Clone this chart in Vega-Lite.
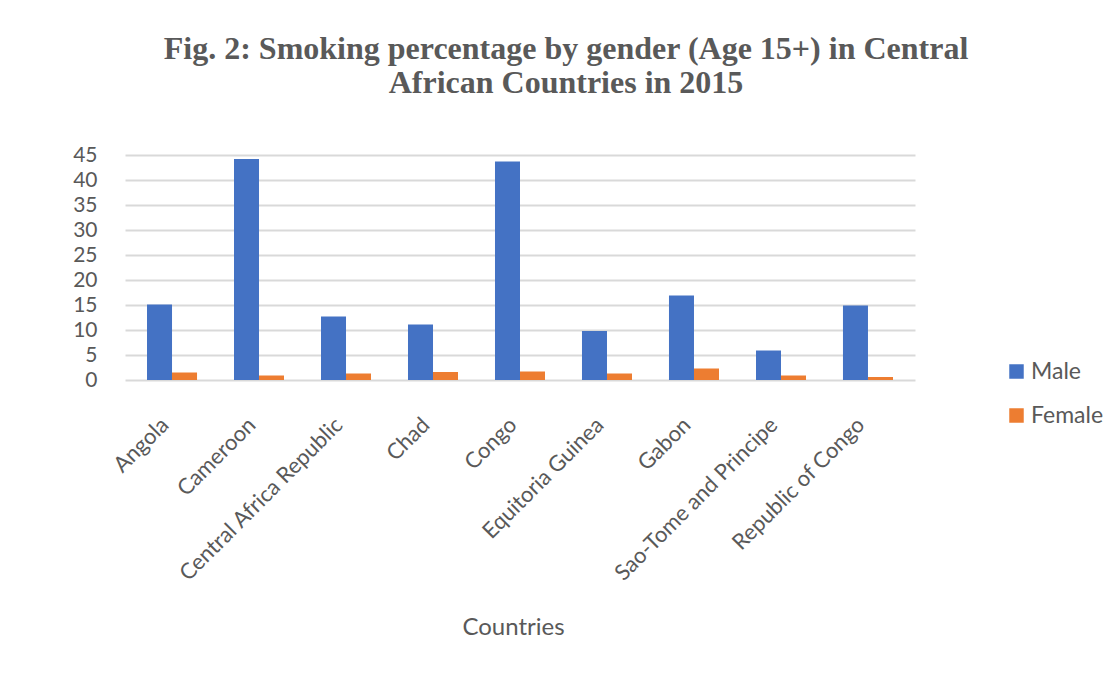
{
  "$schema": "https://vega.github.io/schema/vega-lite/v6.json",
  "autosize": {"type": "none"},
  "width": 790,
  "height": 225,
  "padding": {"left": 125, "top": 155, "right": 198, "bottom": 295},
  "background": "white",
  "title": {
    "text": ["Fig. 2: Smoking percentage by gender (Age 15+) in Central", "African Countries in 2015"],
    "font": "Liberation Serif",
    "fontSize": 32,
    "fontWeight": "bold",
    "color": "#595959",
    "lineHeight": 34,
    "anchor": "middle",
    "dx": 46,
    "offset": 44
  },
  "data": {
    "values": [
      {"country": "Angola", "gender": "Male", "value": 15.1},
      {"country": "Angola", "gender": "Female", "value": 1.5},
      {"country": "Cameroon", "gender": "Male", "value": 44.2},
      {"country": "Cameroon", "gender": "Female", "value": 0.9},
      {"country": "Central Africa Republic", "gender": "Male", "value": 12.7},
      {"country": "Central Africa Republic", "gender": "Female", "value": 1.3},
      {"country": "Chad", "gender": "Male", "value": 11.1},
      {"country": "Chad", "gender": "Female", "value": 1.6},
      {"country": "Congo", "gender": "Male", "value": 43.7},
      {"country": "Congo", "gender": "Female", "value": 1.7},
      {"country": "Equitoria Guinea", "gender": "Male", "value": 9.8},
      {"country": "Equitoria Guinea", "gender": "Female", "value": 1.3},
      {"country": "Gabon", "gender": "Male", "value": 16.9},
      {"country": "Gabon", "gender": "Female", "value": 2.3},
      {"country": "Sao-Tome and Principe", "gender": "Male", "value": 5.9},
      {"country": "Sao-Tome and Principe", "gender": "Female", "value": 0.9},
      {"country": "Republic of Congo", "gender": "Male", "value": 14.9},
      {"country": "Republic of Congo", "gender": "Female", "value": 0.6}
    ]
  },
  "mark": {"type": "bar"},
  "encoding": {
    "x": {
      "field": "country",
      "type": "nominal",
      "sort": null,
      "scale": {"paddingInner": 0.425, "paddingOuter": 0.253},
      "axis": {
        "title": "Countries",
        "titleFont": "Lato",
        "titleFontSize": 24,
        "titleFontWeight": "normal",
        "titleColor": "#595959",
        "titlePadding": 35,
        "titleX": 388,
        "labelFont": "Lato",
        "labelFontSize": 22,
        "labelColor": "#595959",
        "labelAngle": -45,
        "labelAlign": "right",
        "labelBaseline": "middle",
        "labelPadding": 41,
        "labelOffset": -7,
        "labelLimit": 400,
        "ticks": false,
        "domain": false,
        "grid": false
      }
    },
    "xOffset": {
      "field": "gender",
      "type": "nominal",
      "sort": ["Male", "Female"],
      "scale": {"paddingInner": 0, "paddingOuter": 0}
    },
    "y": {
      "field": "value",
      "type": "quantitative",
      "scale": {"domain": [0, 45], "nice": false},
      "axis": {
        "title": null,
        "values": [0, 5, 10, 15, 20, 25, 30, 35, 40, 45],
        "labelFont": "Lato",
        "labelFontSize": 21,
        "labelColor": "#595959",
        "labelPadding": 28,
        "ticks": false,
        "domain": false,
        "grid": true,
        "gridColor": "#d9d9d9",
        "gridWidth": 2
      }
    },
    "color": {
      "field": "gender",
      "type": "nominal",
      "sort": ["Male", "Female"],
      "scale": {"domain": ["Male", "Female"], "range": ["#4472C4", "#ED7D31"]},
      "legend": {
        "title": null,
        "orient": "none",
        "legendX": 880,
        "legendY": 205,
        "symbolType": "square",
        "symbolSize": 210,
        "symbolStrokeWidth": 0,
        "symbolOpacity": 1,
        "labelFont": "Lato",
        "labelFontSize": 23,
        "labelColor": "#595959",
        "rowPadding": 20,
        "labelOffset": 3
      }
    }
  },
  "config": {"view": {"stroke": null}}
}
